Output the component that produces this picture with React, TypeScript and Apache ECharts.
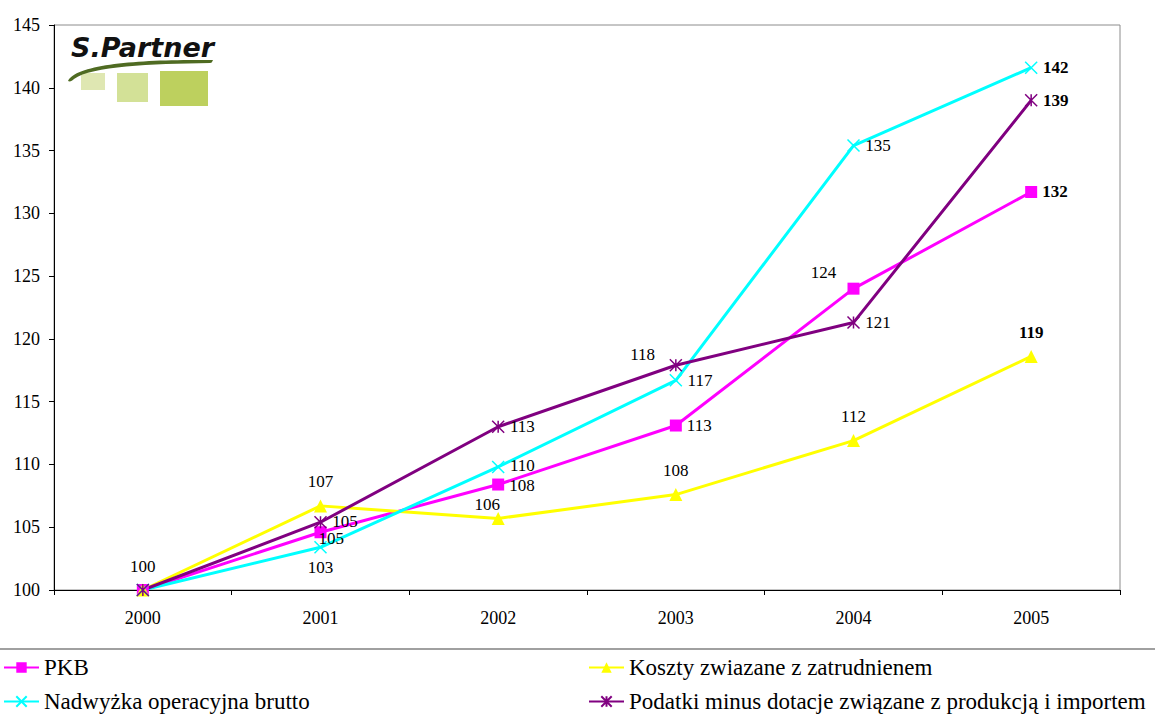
import React, { useEffect, useRef } from "react";
import * as echarts from "echarts";

const categories = ["2000", "2001", "2002", "2003", "2004", "2005"];
const pkb = [100, 104.6, 108.4, 113.1, 124.0, 131.7];
const koszty = [100, 106.7, 105.7, 107.6, 111.9, 118.6];
const nadwyzka = [100, 103.4, 109.8, 116.7, 135.4, 141.6];
const podatki = [100, 105.4, 113.0, 117.9, 121.3, 139.0];
const seriesNames = [
  "PKB",
  "Koszty zwiazane z zatrudnienem",
  "Nadwyżka operacyjna brutto",
  "Podatki minus dotacje związane z produkcją i importem",
];
const yMin = 100;
const yMax = 145;
const yStep = 5;

const FONT = "Liberation Serif";

type LP = { show: boolean; position?: any; offset?: number[]; bold?: boolean };

// label placement (style only)
const pkbLabels: LP[] = [
  { show: false },
  { show: true, position: "right", offset: [-13, 6] },
  { show: true, position: "right", offset: [0, 1] },
  { show: true, position: "right" },
  { show: true, position: "top", offset: [-30, 3] },
  { show: true, position: "right", bold: true },
];
const kosztyLabels: LP[] = [
  { show: true, position: "top", offset: [0, -4] },
  { show: true, position: "top", offset: [0, -4] },
  { show: true, position: "top", offset: [-11, 6] },
  { show: true, position: "top", offset: [0, -4] },
  { show: true, position: "top", offset: [0, -4] },
  { show: true, position: "top", offset: [0, -4], bold: true },
];
const nadwyzkaLabels: LP[] = [
  { show: false },
  { show: true, position: "bottom" },
  { show: true, position: "right", offset: [0, -1] },
  { show: true, position: "right" },
  { show: true, position: "right" },
  { show: true, position: "right", bold: true },
];
const podatkiLabels: LP[] = [
  { show: false },
  { show: true, position: "right", offset: [0, -1] },
  { show: true, position: "right" },
  { show: true, position: "left", offset: [-9, -11] },
  { show: true, position: "right" },
  { show: true, position: "right", bold: true },
];

function buildData(values: number[], labels: LP[]) {
  return values.map((v, i) => {
    const l = labels[i];
    return {
      value: v,
      label: {
        show: l.show,
        position: l.position || "top",
        offset: l.offset || [0, 0],
        fontWeight: l.bold ? "bold" : "normal",
        fontSize: 17,
        fontFamily: FONT,
        color: "#000",
        formatter: (p: any) => String(Math.round(p.value)),
      },
    };
  });
}

const X_PATH = "path://M0,0L12,12M12,0L0,12";
const STAR_PATH = "path://M0,0L12,12M12,0L0,12M6,0L6,12";

let shapeRegistered = false;

export default function App() {
  const ref = useRef<HTMLDivElement>(null);
  useEffect(() => {
    if (!ref.current) return;
    if (!shapeRegistered) {
      echarts.graphic.registerShape(
        "swoosh",
        echarts.graphic.extendPath(
          "M68,81 C76,64 140,59 213,60 C212,62 212,63 210,63 C150,64 92,66 74,79 C72,81 70,82 68,81 Z",
          {}
        )
      );
      shapeRegistered = true;
    }
    const chart = echarts.init(ref.current, null, { renderer: "svg" });
    const lineSeries = (
      name: string,
      values: number[],
      labels: LP[],
      color: string,
      symbol: string,
      symbolSize: number,
      stroke: boolean,
      width: number
    ) => ({
      type: "line",
      name,
      data: buildData(values, labels),
      symbol,
      symbolSize,
      showAllSymbol: true,
      lineStyle: { color, width },
      itemStyle: stroke
        ? { color, borderColor: color, borderWidth: 1.5 }
        : { color, borderWidth: 0 },
      emphasis: { disabled: true },
    });
    const legendBase = {
      orient: "horizontal",
      padding: 0,
      itemWidth: 35,
      itemHeight: 13,
      itemGap: 5,
      selectedMode: false,
      textStyle: { fontFamily: FONT, fontSize: 23, color: "#000", padding: [0, 0, 0, 0] },
    };
    chart.setOption({
      animation: false,
      backgroundColor: "#fff",
      textStyle: { fontFamily: FONT },
      grid: {
        left: 54,
        right: 35,
        top: 25,
        bottom: 124,
        show: true,
        borderColor: "#8c8c8c",
        borderWidth: 1,
        backgroundColor: "transparent",
      },
      xAxis: {
        type: "category",
        data: categories,
        boundaryGap: true,
        axisLine: { lineStyle: { color: "#000", width: 1 } },
        axisTick: { show: true, length: 5, lineStyle: { color: "#000" } },
        axisLabel: { fontFamily: FONT, fontSize: 18, color: "#000", margin: 19 },
        splitLine: { show: false },
      },
      yAxis: {
        type: "value",
        min: yMin,
        max: yMax,
        interval: yStep,
        axisLine: { show: true, lineStyle: { color: "#000", width: 1 } },
        axisTick: { show: true, length: 5, lineStyle: { color: "#000" } },
        axisLabel: { fontFamily: FONT, fontSize: 18, color: "#000", margin: 14 },
        splitLine: { show: false },
      },
      legend: [
        { ...legendBase, data: [seriesNames[0]], left: 3, top: 656 },
        { ...legendBase, data: [seriesNames[2]], left: 3, top: 690 },
        { ...legendBase, data: [seriesNames[1]], left: 588, top: 656 },
        { ...legendBase, data: [seriesNames[3]], left: 588, top: 690 },
      ],
      series: [
        lineSeries(seriesNames[0], pkb, pkbLabels, "#ff00ff", "rect", 12, false, 3),
        lineSeries(seriesNames[1], koszty, kosztyLabels, "#ffff00", "triangle", 13, false, 3),
        lineSeries(seriesNames[2], nadwyzka, nadwyzkaLabels, "#00ffff", X_PATH, 12, true, 3),
        lineSeries(seriesNames[3], podatki, podatkiLabels, "#800080", STAR_PATH, 12, true, 3),
      ],
      graphic: [
        {
          type: "line",
          shape: { x1: 0, y1: 649, x2: 1155, y2: 649 },
          style: { stroke: "#808080", lineWidth: 1.5 },
          silent: true,
        },
        { type: "rect", shape: { x: 81, y: 73, width: 24, height: 17 }, style: { fill: "#dfe7b2" } },
        { type: "rect", shape: { x: 117, y: 73, width: 31, height: 29 }, style: { fill: "#d3e197" } },
        { type: "rect", shape: { x: 160, y: 71, width: 48, height: 35 }, style: { fill: "#bdd05e" } },
        { type: "swoosh", x: 0, y: 0, style: { fill: "#4f6b22" } },
        {
          type: "text",
          x: 71,
          y: 34,
          style: {
            text: "S.Partner",
            fill: "#111",
            fontFamily: "DejaVu Sans",
            fontStyle: "italic",
            fontWeight: "bold",
            fontSize: 27,
          },
        },
      ],
    });
    return () => chart.dispose();
  }, []);
  return (
    <div
      ref={ref}
      style={{ position: "fixed", left: 0, top: 0, width: 1155, height: 714, background: "#fff" }}
    />
  );
}
